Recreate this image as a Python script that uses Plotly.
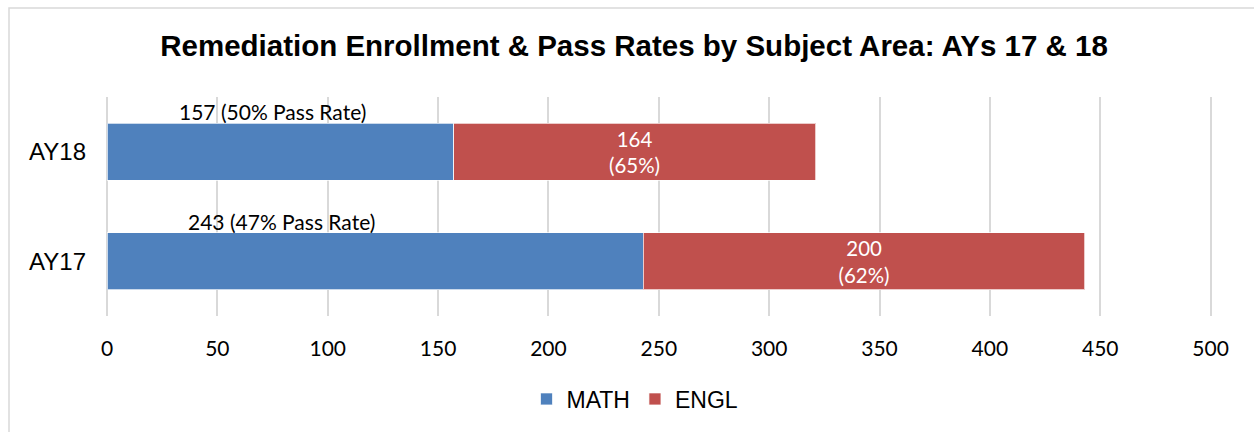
import plotly.graph_objects as go

# Remediation enrollment (headcount) and pass rates per academic year
years = ["AY17", "AY18"]
math_enrolled = [243, 157]
math_pass_pct = [47, 50]
engl_enrolled = [200, 164]
engl_pass_pct = [62, 65]
x_ticks = [0, 50, 100, 150, 200, 250, 300, 350, 400, 450, 500]

W, H = 1254, 432
L, R, T, B = 107, 39, 97, 116
plot_w = W - L - R
plot_h = H - T - B

label_font = "Lato, 'Open Sans', sans-serif"
arial = "'Liberation Sans', Arial, sans-serif"

fig = go.Figure()
fig.add_trace(go.Bar(
    y=years, x=math_enrolled, name="MATH", orientation="h",
    marker=dict(color="#4F81BD", line=dict(color="rgba(255,255,255,0.7)", width=1)),
    width=0.52, hoverinfo="skip",
))
fig.add_trace(go.Bar(
    y=years, x=engl_enrolled, name="ENGL", orientation="h",
    marker=dict(color="#C0504D", line=dict(color="rgba(255,255,255,0.7)", width=1)),
    width=0.52, hoverinfo="skip",
    text=[f"{v}<br>({p}%)" for v, p in zip(engl_enrolled, engl_pass_pct)],
    textposition="inside", insidetextanchor="middle", textangle=0,
    textfont=dict(family=label_font, size=21, color="white"),
))

# MATH labels sit just above the blue bars, near the left end
label_anchor = {"AY17": 79, "AY18": 75}
for yr, v, p in zip(years, math_enrolled, math_pass_pct):
    fig.add_annotation(
        x=label_anchor[yr], y=yr, text=f"{v} ({p}% Pass Rate)",
        showarrow=False, xanchor="center", yanchor="middle", yshift=40,
        font=dict(family=label_font, size=21, color="#000000"),
    )

# Light frame around the chart area (left and top edges visible)
px = lambda p: (p - L) / plot_w
py = lambda p: (H - B - p) / plot_h
fig.add_shape(type="rect", xref="paper", yref="paper",
              x0=px(9), x1=px(W + 20), y0=py(H + 20), y1=py(8),
              line=dict(color="#D9D9D9", width=1.5), fillcolor="rgba(0,0,0,0)", layer="below")

fig.update_layout(
    width=W, height=H,
    margin=dict(l=L, r=R, t=T, b=B),
    barmode="stack",
    bargap=0.48,
    paper_bgcolor="white", plot_bgcolor="white",
    title=dict(
        text="<b>Remediation Enrollment & Pass Rates by Subject Area: AYs 17 & 18</b>",
        x=634 / W, xanchor="center", xref="container",
        y=1 - 46 / H, yanchor="middle", yref="container",
        font=dict(family=arial, size=29.5, color="#000000"),
    ),
    xaxis=dict(
        range=[0, 502], tickvals=x_ticks, ticktext=[str(t) for t in x_ticks],
        showgrid=True, gridcolor="#D9D9D9", gridwidth=1.5,
        zeroline=True, zerolinecolor="#D9D9D9", zerolinewidth=1.5,
        showline=False, ticks="", ticklabelstandoff=18,
        tickfont=dict(family=label_font, size=21, color="#000000"),
        fixedrange=True,
    ),
    yaxis=dict(
        categoryorder="array", categoryarray=years,
        showgrid=False, zeroline=False, showline=False, ticks="",
        ticklabelstandoff=20,
        tickfont=dict(family=arial, size=24, color="#000000"),
        fixedrange=True,
    ),
    legend=dict(
        orientation="h", x=(635 - L) / plot_w, xanchor="center",
        y=py(399), yanchor="middle",
        font=dict(family=arial, size=23, color="#000000"),
        traceorder="normal", itemclick=False, itemdoubleclick=False,
    ),
    showlegend=True,
)

fig.write_html("out.html")
